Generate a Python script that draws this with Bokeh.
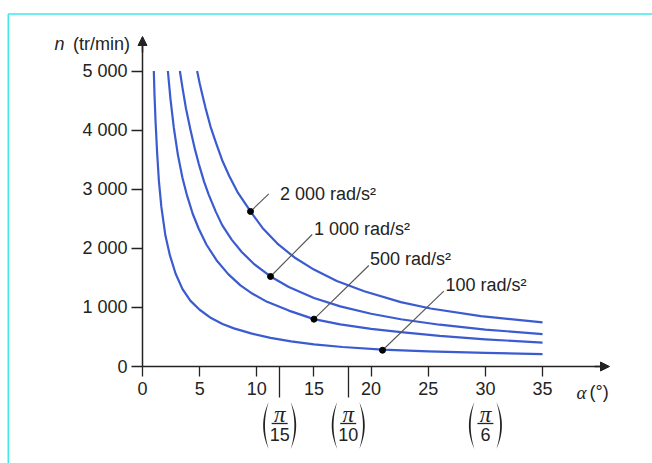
from bokeh.plotting import figure
from bokeh.models import Range1d, FixedTicker, Arrow, NormalHead, LinearAxis
from bokeh.embed import file_html
from bokeh.resources import INLINE
from bokeh.core.properties import value

# ---------------- data ----------------
alpha_100 = [0.99, 1.05, 1.14, 1.27, 1.43, 1.65, 2.0, 2.4, 2.9, 3.5, 4.2, 5.0, 6.0, 7.0, 8.0,
             9.5, 11.2, 13.0, 15.0, 17.5, 21.0, 25.0, 30.0, 35.0]
n_100 = [5000, 4600, 4150, 3650, 3150, 2700, 2220, 1880, 1570, 1310, 1110, 960, 820, 720, 645,
         560, 485, 425, 375, 330, 285, 255, 230, 210]

alpha_500 = [2.22, 2.45, 2.74, 3.1, 3.5, 3.9, 4.4, 4.93, 5.6, 6.53, 7.5, 8.57, 9.6, 10.9, 12.8,
             15.0, 17.3, 20.0, 22.6, 26.0, 30.0, 35.0]
n_500 = [5000, 4520, 4040, 3577, 3190, 2890, 2580, 2327, 2060, 1784, 1563, 1372, 1234, 1094, 946,
         801, 713, 637, 582, 517, 459, 405]

alpha_1000 = [3.27, 3.5, 3.8, 4.2, 4.6, 4.93, 5.4, 5.8, 6.4, 6.97, 7.8, 8.7, 9.8, 11.2, 12.8,
              15.0, 17.3, 20.0, 22.6, 26.0, 30.0, 35.0]
n_1000 = [5000, 4715, 4370, 4000, 3665, 3425, 3120, 2905, 2625, 2392, 2147, 1934, 1727, 1523, 1344,
          1160, 1018, 892, 800, 707, 625, 548]

alpha_2000 = [4.78, 5.0, 5.22, 5.5, 5.95, 6.4, 6.97, 7.6, 8.3, 9.45, 10.5, 11.8, 13.3, 15.0,
              17.0, 19.4, 22.6, 25.2, 29.6, 35.0]
n_2000 = [5000, 4794, 4610, 4385, 4060, 3801, 3490, 3220, 2955, 2623, 2345, 2080, 1845, 1640,
          1447, 1274, 1090, 982, 851, 747]

curve_names = ["100 rad/s²", "500 rad/s²", "1 000 rad/s²", "2 000 rad/s²"]
dot_alpha = [21.0, 15.0, 11.2, 9.45]
dot_n = [275, 801, 1523, 2623]

x_ticks = [0, 5, 10, 15, 20, 25, 30, 35]
x_tick_labels = ["0", "5", "10", "15", "20", "25", "30", "35"]
y_ticks = [0, 1000, 2000, 3000, 4000, 5000]
y_tick_labels = ["0", "1 000", "2 000", "3 000", "4 000", "5 000"]

frac_alpha = [12, 18, 30]          # pi/15, pi/10, pi/6 in degrees
frac_den = ["15", "10", "6"]
frac_long_tick = [12, 18]

# ---------------- layout (page pixels) ----------------
W, H = 652, 463
X0_PX, Y0_PX = 142.0, 366.0      # page position of the origin
PX_DEG = 11.43
PX_N = 0.0591


def ax(px):
    return (px - X0_PX) / PX_DEG


def ny(py):
    return (Y0_PX - py) / PX_N


INK = "#232323"
BLUE = "#3b5bd0"
SANS = "Liberation Sans"
SERIF = "Liberation Serif"

p = figure(width=W, height=H, output_backend="svg", toolbar_location=None,
           x_range=Range1d(ax(0), ax(W)), y_range=Range1d(ny(H), ny(0)),
           min_border=0, x_axis_location="below", y_axis_location="left")
p.min_border_left = p.min_border_right = p.min_border_top = p.min_border_bottom = 0
p.outline_line_color = None
p.grid.visible = False
p.background_fill_color = "white"
p.border_fill_color = "white"

X_END = ax(600)
Y_END = ny(44)

# axes (drawn through the origin)
p.xaxis.ticker = FixedTicker(ticks=x_ticks, minor_ticks=[])
p.xaxis.major_label_overrides = {t: l for t, l in zip(x_ticks, x_tick_labels)}
p.yaxis.ticker = FixedTicker(ticks=y_ticks, minor_ticks=[])
p.yaxis.major_label_overrides = {t: l for t, l in zip(y_ticks, y_tick_labels)}
p.xaxis.fixed_location = 0
p.yaxis.fixed_location = 0
p.xaxis.bounds = (0, X_END)
p.yaxis.bounds = (0, Y_END)
for axis in (p.xaxis, p.yaxis):
    axis.axis_line_color = INK
    axis.axis_line_width = 1.5
    axis.major_tick_line_color = INK
    axis.major_tick_line_width = 1.3
    axis.major_tick_in = 0
    axis.minor_tick_line_color = None
    axis.major_label_text_font = SANS
    axis.major_label_text_font_size = "18px"
    axis.major_label_text_color = INK
p.xaxis.major_tick_out = 10
p.xaxis.major_label_standoff = 5
p.yaxis.major_tick_out = 11
p.yaxis.major_label_standoff = 4

# long ticks at pi/15 and pi/10
long_axis = LinearAxis(ticker=FixedTicker(ticks=frac_long_tick, minor_ticks=[]),
                       fixed_location=0, bounds=(0, X_END),
                       major_label_overrides={t: "" for t in frac_long_tick},
                       axis_line_color=None, major_tick_line_color=INK, major_tick_line_width=1.3,
                       major_tick_in=0, major_tick_out=31, minor_tick_line_color=None)
p.add_layout(long_axis, "below")

# axis arrows
p.add_layout(Arrow(end=NormalHead(size=9, fill_color=INK, line_color=INK),
                   x_start=ax(594), y_start=0, x_end=ax(609), y_end=0,
                   line_color=INK, line_width=1.5))
p.add_layout(Arrow(end=NormalHead(size=9, fill_color=INK, line_color=INK),
                   x_start=0, y_start=ny(52), x_end=0, y_end=ny(36),
                   line_color=INK, line_width=1.5))

# curves
for a, n in ((alpha_100, n_100), (alpha_500, n_500), (alpha_1000, n_1000), (alpha_2000, n_2000)):
    p.line(a, n, line_color=BLUE, line_width=2.2, line_join="round")

# leaders, dots and labels
lead_end = [(443.3, 290.7), (368.3, 265.0), (311.7, 234.0), (268.3, 193.3)]
lab_pos = [(445, 284), (369.5, 258.5), (313.5, 228.5), (279.5, 193.5)]
p.segment(x0=dot_alpha, y0=dot_n,
          x1=[ax(e[0]) for e in lead_end], y1=[ny(e[1]) for e in lead_end],
          line_color="#555555", line_width=1.1)
p.scatter(dot_alpha, dot_n, size=6, color="black")
p.text(x=[ax(q[0]) for q in lab_pos], y=[ny(q[1]) for q in lab_pos], text=curve_names,
       text_font=value(SANS), text_font_size="18px", text_color=INK,
       text_align="left", text_baseline="middle")

# axis titles
p.text(x=[ax(64)], y=[ny(43.5)], text=["n"], text_font=value(SANS), text_font_style="italic",
       text_font_size="18px", text_color=INK, text_align="right", text_baseline="middle")
p.text(x=[ax(129.5)], y=[ny(43.5)], text=["(tr/min)"], text_font=value(SANS),
       text_font_size="18px", text_color=INK, text_align="right", text_baseline="middle")
p.text(x=[ax(576)], y=[ny(391.5)], text=["α"], text_font=value(SERIF), text_font_style="italic",
       text_font_size="19px", text_color=INK, text_align="left", text_baseline="middle")
p.text(x=[ax(589)], y=[ny(391.5)], text=["(°)"], text_font=value(SANS),
       text_font_size="18px", text_color=INK, text_align="left", text_baseline="middle")

# pi fractions under the x axis
p.text(x=frac_alpha, y=[ny(413.5)] * len(frac_alpha), text=["π"] * len(frac_alpha),
       text_font=value(SERIF), text_font_style="italic", text_font_size="23px", text_color=INK,
       text_align="center", text_baseline="middle")
p.text(x=frac_alpha, y=[ny(433.5)] * len(frac_alpha), text=frac_den,
       text_font=value(SANS), text_font_size="18px", text_color=INK,
       text_align="center", text_baseline="middle")
p.segment(x0=[a - 8 / PX_DEG for a in frac_alpha], y0=[ny(423)] * len(frac_alpha),
          x1=[a + 8 / PX_DEG for a in frac_alpha], y1=[ny(423)] * len(frac_alpha),
          line_color=INK, line_width=1.3)
# parentheses as thin crescents
ym, hh = 425.0, 23.5
ts = [i / 20.0 - 1.0 for i in range(41)]
par_xs, par_ys = [], []
for fa in frac_alpha:
    xc = X0_PX + fa * PX_DEG
    for side in (-1, 1):
        xe = xc + side * 11
        outer = [(xe + side * 5.5 * (1 - t * t), ym + t * hh) for t in ts]
        inner = [(xe + side * 3.7 * (1 - t * t), ym + t * hh) for t in reversed(ts)]
        pts = outer + inner
        par_xs.append([ax(q[0]) for q in pts])
        par_ys.append([ny(q[1]) for q in pts])
p.patches(par_xs, par_ys, fill_color=INK, line_color=None)

# cyan frame (top and left edges)
CYAN = "#3fe9ee"
p.line([ax(7.8), ax(7.8), ax(W + 5)], [ny(H + 5), ny(13.5), ny(13.5)],
       line_color=CYAN, line_width=1.6)

open("out.html", "w").write(file_html(p, INLINE))
